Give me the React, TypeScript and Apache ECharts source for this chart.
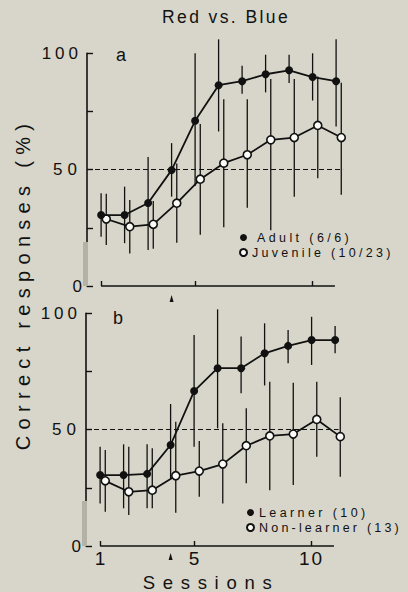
import React, { useEffect, useRef } from "react";
import * as echarts from "echarts";

// ---------- data ----------
const sessions = [1, 2, 3, 4, 5, 6, 7, 8, 9, 10, 11];
// open symbols are drawn slightly to the right of each session
const openSessions = [1.22, 2.22, 3.22, 4.22, 5.22, 6.22, 7.22, 8.22, 9.22, 10.22, 11.22];

// panel a
const adultMean = [30.5, 30.5, 35.7, 49.8, 71, 86.3, 88, 91, 92.7, 89.8, 88];
const adultHigh = [39.9, 42.7, 55.4, 61.4, 100, 106, 94.7, 99.4, 99.4, 100, 106];
const adultLow = [21.2, 18.4, 15.5, 38.4, 43, 66.4, 82.6, 83.2, 87.2, 79.7, 68.5];

const juvenileMean = [28.8, 25.5, 26.5, 35.6, 45.9, 52.8, 56.4, 62.8, 63.8, 69, 63.8];
const juvenileHigh = [39.6, 37, 36.5, 52.6, 69.6, 80.3, 80.3, 89, 89, 90, 87.3];
const juvenileLow = [17.6, 14, 16, 18.6, 22, 25.3, 33.6, 24, 38.4, 46.3, 39.2];

// panel b
const learnerMean = [30.5, 30.5, 31, 43.4, 66.6, 76.4, 76.4, 82.8, 86, 88.5, 88.5];
const learnerHigh = [42.7, 43.7, 43.7, 61, 90.7, 101.7, 90, 95.7, 92.8, 98.5, 94.5];
const learnerLow = [18.3, 16.2, 16.2, 29, 42.7, 50.6, 65.6, 69, 78.5, 77.8, 82.8];

const nonLearnerMean = [28, 23.3, 24, 30.2, 32.2, 35.2, 43.1, 47.3, 48.1, 54.4, 47];
const nonLearnerHigh = [41.3, 42.7, 42, 53.4, 45.1, 52.7, 59.2, 70.6, 70.2, 70.6, 63.9];
const nonLearnerLow = [14.7, 13.3, 16.2, 14.3, 21.2, 18.3, 27, 24, 26.2, 38.4, 29.8];

const yTickLabels = [0, 50, 100];
const xTickLabels = [1, 5, 10];
const chanceLevel = 50;
const arrowSession = 4;
const axisStart = 1;
const axisEnd = 10.95;

const seriesNames = {
  adult: "Adult (6/6)",
  juvenile: "Juvenile (10/23)",
  learner: "Learner (10)",
  nonLearner: "Non-learner (13)",
};

const INK = "#111111";
const BG = "#d8d6ca";
const FONT = "'Liberation Sans', Arial, Helvetica, sans-serif";

const letterSpacing: Record<string, number> = {
  "Red vs. Blue": 2.4,
  "Correct responses (%)": 6.3,
  Sessions: 7.7,
  "100": 4,
  "50": 5,
  "10": 2,
  [seriesNames.adult]: 3.4,
  [seriesNames.juvenile]: 3.3,
  [seriesNames.learner]: 3.4,
  [seriesNames.nonLearner]: 3.2,
};

const zip = (xs: number[], ys: number[]) => xs.map((x, i) => [x, ys[i]]);
const bars = (xs: number[], lo: number[], hi: number[]) => xs.map((x, i) => [x, lo[i], hi[i]]);

function errorSeries(name: string, idx: number, data: number[][]) {
  return {
    type: "custom",
    name,
    xAxisIndex: idx,
    yAxisIndex: idx,
    clip: false,
    silent: true,
    z: 1,
    encode: { x: 0, y: [1, 2] },
    data,
    renderItem: (_p: any, api: any) => {
      const top = api.coord([api.value(0), api.value(2)]);
      const bot = api.coord([api.value(0), api.value(1)]);
      return {
        type: "line",
        shape: { x1: top[0], y1: top[1], x2: bot[0], y2: bot[1] },
        style: { stroke: INK, lineWidth: 1.3 },
      };
    },
  };
}

function meanSeries(name: string, idx: number, data: number[][], filled: boolean) {
  return {
    type: "line",
    name,
    xAxisIndex: idx,
    yAxisIndex: idx,
    data,
    silent: true,
    z: filled ? 4 : 3,
    symbol: "circle",
    symbolSize: 8,
    itemStyle: filled
      ? { color: INK, borderColor: INK, borderWidth: 0 }
      : { color: "#fbfbf8", borderColor: INK, borderWidth: 1.6 },
    lineStyle: { color: INK, width: 1.8 },
  };
}

function frameMarks(idx: number, arrowOffset: number) {
  return {
    type: "line",
    name: "frame" + idx,
    xAxisIndex: idx,
    yAxisIndex: idx,
    data: [],
    silent: true,
    z: 2,
    markLine: {
      silent: true,
      symbol: "none",
      label: { show: false },
      data: [
        [
          { coord: [0.4, chanceLevel], lineStyle: { type: [5, 3], color: INK, width: 1.1 } },
          { coord: [idx === 0 ? 11.3 : 11.15, chanceLevel] },
        ],
        [
          { coord: [axisStart, 0], lineStyle: { type: "solid", color: INK, width: 1.7 } },
          { coord: [axisEnd, 0] },
        ],
      ],
    },
    markPoint: {
      silent: true,
      label: { show: false },
      data: [
        {
          coord: [arrowSession, 0],
          symbol: "triangle",
          symbolSize: [4, 7],
          symbolOffset: [0, arrowOffset],
          itemStyle: { color: INK },
        },
      ],
    },
  };
}

function xAxis(idx: number, showLabels: boolean) {
  return {
    type: "value",
    gridIndex: idx,
    min: 0.4,
    max: 11.6,
    axisLine: { show: false },
    splitLine: { show: false },
    axisTick: {
      show: true,
      inside: true,
      length: 5,
      customValues: xTickLabels,
      lineStyle: { color: INK, width: 1.4 },
    },
    axisLabel: {
      show: showLabels,
      customValues: xTickLabels,
      color: INK,
      fontSize: 19,
      fontFamily: FONT,
      margin: 3,
    },
  };
}

function yAxis(idx: number) {
  return {
    type: "value",
    gridIndex: idx,
    min: 0,
    max: 100,
    interval: 25,
    axisLine: { show: true, lineStyle: { color: INK, width: 1.6 } },
    splitLine: { show: false },
    axisTick: { show: true, inside: true, length: 6, lineStyle: { color: INK, width: 1.4 } },
    axisLabel: {
      customValues: yTickLabels,
      color: INK,
      fontSize: 17,
      fontFamily: FONT,
      margin: 5,
    },
  };
}

export default function App() {
  const ref = useRef<HTMLDivElement>(null);

  useEffect(() => {
    const el = ref.current!;
    const chart = echarts.init(el, null, { renderer: "svg" });

    const legendText = { fontSize: 12.5, color: INK, fontFamily: FONT };

    const option: any = {
      animation: false,
      backgroundColor: BG,
      grid: [
        { left: 87, top: 53.3, width: 263.2, height: 232.7 },
        { left: 86, top: 313.3, width: 263.2, height: 232.7 },
      ],
      xAxis: [xAxis(0, false), xAxis(1, true)],
      yAxis: [yAxis(0), yAxis(1)],
      legend: [
        {
          orient: "vertical",
          left: 234,
          top: 226,
          itemWidth: 7,
          itemHeight: 7,
          itemGap: 2,
          icon: "circle",
          selectedMode: false,
          textStyle: legendText,
          data: [
            { name: seriesNames.adult, textStyle: { padding: [0, 0, 0, 5] } },
            { name: seriesNames.juvenile },
          ],
        },
        {
          orient: "vertical",
          left: 241,
          top: 501,
          itemWidth: 7,
          itemHeight: 7,
          itemGap: 2,
          icon: "circle",
          selectedMode: false,
          textStyle: legendText,
          data: [{ name: seriesNames.learner }, { name: seriesNames.nonLearner }],
        },
      ],
      series: [
        frameMarks(0, 12.5),
        errorSeries("adultErr", 0, bars(sessions, adultLow, adultHigh)),
        errorSeries("juvenileErr", 0, bars(openSessions, juvenileLow, juvenileHigh)),
        meanSeries(seriesNames.juvenile, 0, zip(openSessions, juvenileMean), false),
        meanSeries(seriesNames.adult, 0, zip(sessions, adultMean), true),

        frameMarks(1, 10.5),
        errorSeries("learnerErr", 1, bars(sessions, learnerLow, learnerHigh)),
        errorSeries("nonLearnerErr", 1, bars(openSessions, nonLearnerLow, nonLearnerHigh)),
        meanSeries(seriesNames.nonLearner, 1, zip(openSessions, nonLearnerMean), false),
        meanSeries(seriesNames.learner, 1, zip(sessions, learnerMean), true),
      ],
      graphic: [
        {
          type: "text",
          x: 226,
          y: 17,
          silent: true,
          style: {
            text: "Red vs. Blue",
            fill: INK,
            font: `17.5px ${FONT}`,
            align: "center",
            verticalAlign: "middle",
          },
        },
        {
          type: "text",
          x: 121,
          y: 55,
          silent: true,
          style: { text: "a", fill: INK, font: `18px ${FONT}`, align: "center", verticalAlign: "middle" },
        },
        {
          type: "text",
          x: 118,
          y: 318,
          silent: true,
          style: { text: "b", fill: INK, font: `18px ${FONT}`, align: "center", verticalAlign: "middle" },
        },
        {
          type: "text",
          x: 23,
          y: 284,
          rotation: Math.PI / 2,
          silent: true,
          style: {
            text: "Correct responses (%)",
            fill: INK,
            font: `20px ${FONT}`,
            align: "center",
            verticalAlign: "middle",
          },
        },
        {
          type: "text",
          x: 211,
          y: 582,
          silent: true,
          style: {
            text: "Sessions",
            fill: INK,
            font: `18.5px ${FONT}`,
            align: "center",
            verticalAlign: "middle",
          },
        },
        // faded scan streak over the lower part of each y axis
        { type: "rect", silent: true, z: 100, shape: { x: 83, y: 242, width: 5, height: 44 }, style: { fill: "#b4b2a6" } },
        { type: "rect", silent: true, z: 100, shape: { x: 82, y: 501, width: 5, height: 45 }, style: { fill: "#b4b2a6" } },
      ],
    };

    chart.setOption(option);

    const apply = () => {
      el.querySelectorAll("text").forEach((t) => {
        const s = letterSpacing[(t.textContent || "").trim()];
        if (s !== undefined) t.setAttribute("letter-spacing", String(s));
      });
    };
    apply();
    chart.on("finished", apply);
    const timers = [setTimeout(apply, 30), setTimeout(apply, 150), setTimeout(apply, 500)];

    return () => {
      timers.forEach(clearTimeout);
      chart.dispose();
    };
  }, []);

  return (
    <div
      ref={ref}
      style={{ position: "fixed", left: 0, top: 0, width: 408, height: 592, background: BG }}
    />
  );
}
